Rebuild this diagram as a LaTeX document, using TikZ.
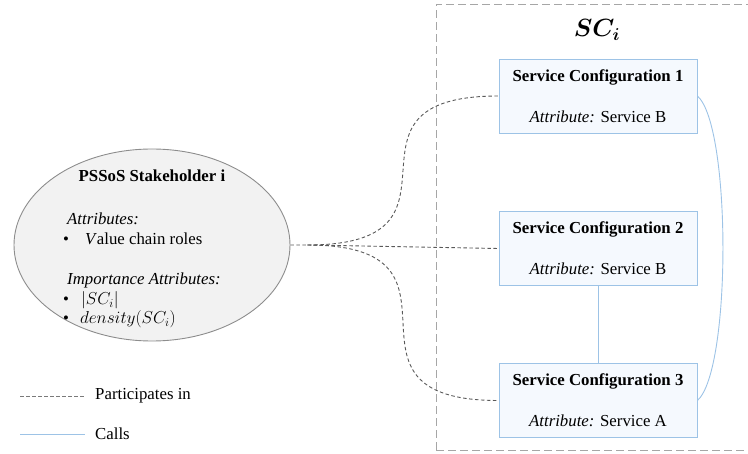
\documentclass[tikz,border=0pt]{standalone}
\usepackage{amsmath}
\usepackage{fontspec}
\setmainfont{Liberation Serif}
\usepackage{tikz}
\usetikzlibrary{shapes.geometric}

\definecolor{cfgline}{RGB}{157,195,230}
\definecolor{cfgfill}{RGB}{245,249,254}
\definecolor{partline}{RGB}{89,89,89}
\definecolor{framegray}{RGB}{166,166,166}
\definecolor{holderfill}{RGB}{242,242,242}

\begin{document}
\begin{tikzpicture}[x=1pt,y=-1pt,font=\fontsize{16.8}{20}\selectfont,
  cfg/.style={draw=cfgline,fill=cfgfill,line width=0.9pt,rectangle,minimum width=198pt,minimum height=74pt,align=center,inner sep=0pt},
  part/.style={draw=partline,line width=0.9pt,dash pattern=on 3.5pt off 2.5pt},
  calls/.style={draw=cfgline,line width=0.9pt},
  txt/.style={anchor=base west,inner sep=0pt}]
\useasboundingbox (0,0) rectangle (748,454);
% group frame
\draw[framegray,line width=0.8pt,dash pattern=on 8pt off 4pt] (436,450) -- (436,4) -- (760,4) (436,450) -- (760,450);
\node[font=\fontsize{23}{27}\selectfont] (title) at (597,30) {{\boldmath$SC_i$}};
% service configurations
\node[cfg] (sc1) at (598,96) {\textbf{Service Configuration 1}\\[21pt]\textit{Attribute:} Service B};
\node[cfg] (sc2) at (598,248.5) {\textbf{Service Configuration 2}\\[21pt]\textit{Attribute:} Service B};
\node[cfg] (sc3) at (598,400.5) {\textbf{Service Configuration 3}\\[21pt]\textit{Attribute:} Service A};
% stakeholder
\node[ellipse,draw=framegray!85!black,fill=holderfill,line width=0.9pt,minimum width=276pt,minimum height=192pt] (holder) at (152,245) {};
\node[font=\fontsize{16.8}{20}\selectfont\bfseries] (name) at (152,176) {PSSoS Stakeholder i};
\node[txt] (attr) at (67,225) {\textit{Attributes:}};
\node[txt] (attr1) at (63,245) {\textbullet\hspace{16pt}\textit{V}alue chain roles};
\node[txt] (imp) at (67,285) {\textit{Importance Attributes:}};
\node[txt] (imp1) at (63,305) {\textbullet\hspace{12pt}$|SC_i|$};
\node[txt] (imp2) at (63,324) {\textbullet\hspace{11pt}$density(SC_i)$};
% participates in
\coordinate (fan) at ([xshift=17pt]holder.east);
\draw[part] (holder.east) -- (fan) to[out=0,in=180,looseness=1.9] (sc1.west);
\draw[part] (fan) -- (sc2.west);
\draw[part] (fan) to[out=0,in=180,looseness=1.9] (sc3.west);
% calls
\draw[calls] (sc2.south) -- (sc3.north);
\draw[calls] (sc1.east) .. controls +(34,30) and +(34,-30) .. (sc3.east);
% legend
\coordinate (lp1) at (20,396);
\coordinate (lp2) at (85,396);
\coordinate (lc1) at (20,434);
\coordinate (lc2) at (85,434);
\draw[part,draw=partline!80,line width=0.7pt] (lp1) -- (lp2);
\draw[calls,line width=0.7pt] (lc1) -- (lc2);
\node[anchor=west,inner sep=0pt] (lpart) at (95,396) {Participates in};
\node[anchor=west,inner sep=0pt] (lcalls) at (95,434) {Calls};
\end{tikzpicture}
\end{document}
